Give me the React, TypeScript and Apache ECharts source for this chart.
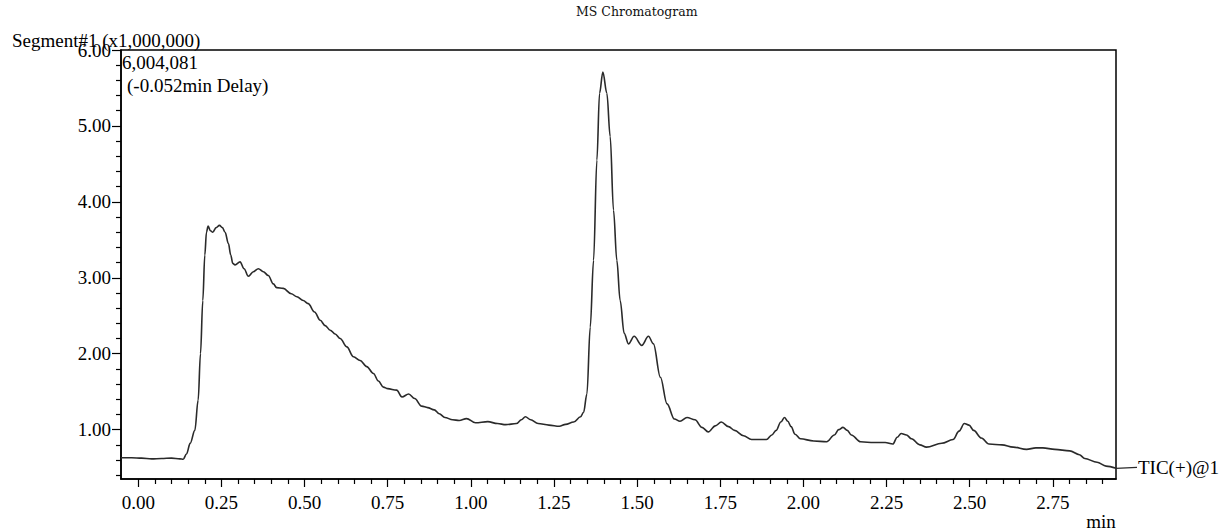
import React, { useEffect, useRef } from "react";
import * as echarts from "echarts";

// retention time (min)
const times: number[] = [
  -0.052, -0.02, 0.01, 0.04, 0.07, 0.10, 0.125, 0.135, 0.145, 0.156, 0.17, 0.18, 0.187, 0.194, 0.20, 0.205,
  0.21, 0.217, 0.224, 0.234, 0.244, 0.253, 0.261, 0.271, 0.278, 0.284, 0.291, 0.306, 0.318, 0.331, 0.346,
  0.361, 0.376, 0.391, 0.406, 0.416, 0.436, 0.46, 0.477, 0.496, 0.511, 0.53, 0.547, 0.562, 0.577, 0.592,
  0.607, 0.627, 0.647, 0.667, 0.687, 0.707, 0.722, 0.737, 0.75, 0.777, 0.793, 0.813, 0.831, 0.852, 0.87,
  0.89, 0.905, 0.922, 0.945, 0.965, 0.987, 1.014, 1.051, 1.08, 1.105, 1.137, 1.152, 1.164, 1.18, 1.202,
  1.235, 1.266, 1.285, 1.309, 1.33, 1.339, 1.349, 1.359, 1.369, 1.379, 1.387, 1.397, 1.409, 1.419, 1.429,
  1.439, 1.449, 1.461, 1.474, 1.491, 1.514, 1.534, 1.549, 1.57, 1.59, 1.612, 1.629, 1.65, 1.674, 1.695,
  1.714, 1.735, 1.753, 1.775, 1.793, 1.82, 1.844, 1.889, 1.905, 1.918, 1.932, 1.943, 1.953, 1.963, 1.975,
  1.991, 2.031, 2.07, 2.093, 2.106, 2.119, 2.132, 2.144, 2.172, 2.212, 2.246, 2.269, 2.282, 2.294, 2.31,
  2.325, 2.35, 2.37, 2.416, 2.45, 2.468, 2.484, 2.498, 2.512, 2.535, 2.558, 2.597, 2.631, 2.671, 2.699,
  2.72, 2.756, 2.801, 2.83, 2.846, 2.883, 2.91, 2.94,
];

// TIC intensity (x1,000,000)
const intensities: number[] = [
  0.63, 0.63, 0.625, 0.615, 0.62, 0.625, 0.615, 0.61, 0.68, 0.82, 0.99, 1.39, 2.0, 2.7, 3.3, 3.6,
  3.68, 3.62, 3.6, 3.66, 3.69, 3.66, 3.6, 3.45, 3.3, 3.19, 3.17, 3.21, 3.12, 3.02, 3.08,
  3.12, 3.08, 3.03, 2.92, 2.87, 2.86, 2.79, 2.75, 2.7, 2.66, 2.55, 2.44, 2.37, 2.31, 2.26,
  2.2, 2.09, 1.96, 1.91, 1.83, 1.74, 1.64, 1.56, 1.54, 1.52, 1.43, 1.47, 1.41, 1.31, 1.29,
  1.26, 1.21, 1.16, 1.13, 1.12, 1.145, 1.09, 1.105, 1.08, 1.066, 1.08, 1.13, 1.17, 1.13, 1.08,
  1.06, 1.044, 1.07, 1.1, 1.17, 1.23, 1.47, 2.35, 3.23, 4.55, 5.43, 5.71, 5.43, 4.86, 3.89,
  3.23, 2.7, 2.27, 2.13, 2.23, 2.11, 2.23, 2.13, 1.69, 1.34, 1.14, 1.11, 1.16, 1.13, 1.03,
  0.97, 1.05, 1.1, 1.04, 0.99, 0.92, 0.87, 0.87, 0.93, 0.99, 1.1, 1.16, 1.11, 1.04, 0.94,
  0.88, 0.85, 0.84, 0.93, 1.0, 1.03, 0.99, 0.93, 0.84, 0.83, 0.83, 0.81, 0.9, 0.95, 0.93,
  0.88, 0.8, 0.77, 0.82, 0.87, 0.98, 1.08, 1.06, 0.99, 0.89, 0.81, 0.8, 0.77, 0.74, 0.76,
  0.76, 0.74, 0.72, 0.67, 0.62, 0.57, 0.52, 0.49,
];

const xMajorTicks: number[] = [0, 0.25, 0.5, 0.75, 1.0, 1.25, 1.5, 1.75, 2.0, 2.25, 2.5, 2.75];
const xMinorTicks: number[] = [
  0.05, 0.1, 0.15, 0.2, 0.3, 0.35, 0.4, 0.45, 0.55, 0.6, 0.65, 0.7, 0.8, 0.85, 0.9, 0.95,
  1.05, 1.1, 1.15, 1.2, 1.3, 1.35, 1.4, 1.45, 1.55, 1.6, 1.65, 1.7, 1.8, 1.85, 1.9, 1.95,
  2.05, 2.1, 2.15, 2.2, 2.3, 2.35, 2.4, 2.45, 2.55, 2.6, 2.65, 2.7, 2.8, 2.85, 2.9,
];
const yMajorTicks: number[] = [1, 2, 3, 4, 5, 6];
const yMinorTicks: number[] = [
  0.4, 0.6, 0.8, 1.2, 1.4, 1.6, 1.8, 2.2, 2.4, 2.6, 2.8, 3.2, 3.4, 3.6, 3.8,
  4.2, 4.4, 4.6, 4.8, 5.2, 5.4, 5.6, 5.8,
];

const titleText = "MS Chromatogram";
const segmentText = "Segment#1 (x1,000,000)";
const maxText = "6,004,081";
const delayText = "(-0.052min Delay)";
const seriesName = "TIC(+)@1";
const xUnit = "min";

const X_MIN = -0.052;
const X_MAX = 2.94;
const Y_MIN = 0.35;
const Y_MAX = 6.0;

const FONT = "'Liberation Serif', 'Times New Roman', serif";

export default function App() {
  const ref = useRef<HTMLDivElement>(null);

  useEffect(() => {
    if (!ref.current) return;
    const chart = echarts.init(ref.current, undefined, { renderer: "svg" });
    const data = times.map((t, i) => [t, intensities[i]]);

    const textStyle = { fontFamily: FONT, fontSize: 19, fill: "#000" };

    chart.setOption({
      animation: false,
      backgroundColor: "#fff",
      grid: {
        left: 121,
        top: 50,
        right: 105,
        bottom: 52,
        show: true,
        borderColor: "#000",
        borderWidth: 1.5,
        backgroundColor: "transparent",
      },
      xAxis: [
        {
          type: "value",
          min: X_MIN,
          max: X_MAX,
          position: "bottom",
          splitLine: { show: false },
          axisLine: { show: true, onZero: false, lineStyle: { color: "#000", width: 1.5 } },
          axisTick: {
            show: true,
            inside: false,
            customValues: xMajorTicks,
            length: 8,
            lineStyle: { color: "#000", width: 1.2 },
          },
          axisLabel: {
            show: true,
            customValues: xMajorTicks,
            formatter: (v: number) => v.toFixed(2),
            fontFamily: FONT,
            fontSize: 19,
            color: "#000",
            margin: 14,
          },
        },
        {
          type: "value",
          min: X_MIN,
          max: X_MAX,
          position: "bottom",
          splitLine: { show: false },
          axisLine: { show: false, onZero: false },
          axisTick: {
            show: true,
            inside: false,
            customValues: xMinorTicks,
            length: 5,
            lineStyle: { color: "#000", width: 1.2 },
          },
          axisLabel: { show: false },
        },
      ],
      yAxis: [
        {
          type: "value",
          min: Y_MIN,
          max: Y_MAX,
          position: "left",
          splitLine: { show: false },
          axisLine: { show: true, onZero: false, lineStyle: { color: "#000", width: 1.5 } },
          axisTick: {
            show: true,
            inside: false,
            customValues: yMajorTicks,
            length: 9,
            lineStyle: { color: "#000", width: 1.2 },
          },
          axisLabel: {
            show: true,
            customValues: yMajorTicks,
            formatter: (v: number) => v.toFixed(2),
            fontFamily: FONT,
            fontSize: 19,
            color: "#000",
            margin: 10,
          },
        },
        {
          type: "value",
          min: Y_MIN,
          max: Y_MAX,
          position: "left",
          splitLine: { show: false },
          axisLine: { show: false, onZero: false },
          axisTick: {
            show: true,
            inside: false,
            customValues: yMinorTicks,
            length: 5,
            lineStyle: { color: "#000", width: 1.2 },
          },
          axisLabel: { show: false },
        },
      ],
      series: [
        {
          name: seriesName,
          type: "line",
          data,
          xAxisIndex: 0,
          yAxisIndex: 0,
          showSymbol: false,
          smooth: 0.35,
          smoothMonotone: "x",
          lineStyle: { color: "#2a2a2a", width: 1.6 },
          z: 3,
        },
      ],
    });

    const last = data[data.length - 1];
    const [ex, ey] = chart.convertToPixel({ gridIndex: 0 }, last) as number[];

    chart.setOption({
      graphic: [
        {
          type: "text",
          left: 576,
          top: 5,
          style: {
            text: titleText,
            fontFamily: "'DejaVu Serif', serif",
            fontSize: 12.5,
            fill: "#111",
          },
        },
        {
          type: "text",
          x: 12,
          y: 40,
          style: { ...textStyle, text: segmentText, verticalAlign: "middle" },
        },
        {
          type: "text",
          x: 122,
          y: 62,
          style: { ...textStyle, text: maxText, verticalAlign: "middle" },
        },
        {
          type: "text",
          x: 127,
          y: 85,
          style: { ...textStyle, text: delayText, verticalAlign: "middle" },
        },
        {
          type: "text",
          x: 1101,
          y: 521,
          style: { ...textStyle, text: xUnit, align: "center", verticalAlign: "middle" },
        },
        {
          type: "line",
          shape: { x1: ex, y1: ey, x2: ex + 21, y2: ey - 1 },
          style: { stroke: "#2a2a2a", lineWidth: 1.4 },
        },
        {
          type: "text",
          x: ex + 22,
          y: ey - 1,
          style: { ...textStyle, text: seriesName, verticalAlign: "middle" },
        },
      ],
    });

    return () => chart.dispose();
  }, []);

  return (
    <div
      ref={ref}
      style={{ position: "fixed", left: 0, top: 0, width: 1221, height: 531, background: "#fff" }}
    />
  );
}
